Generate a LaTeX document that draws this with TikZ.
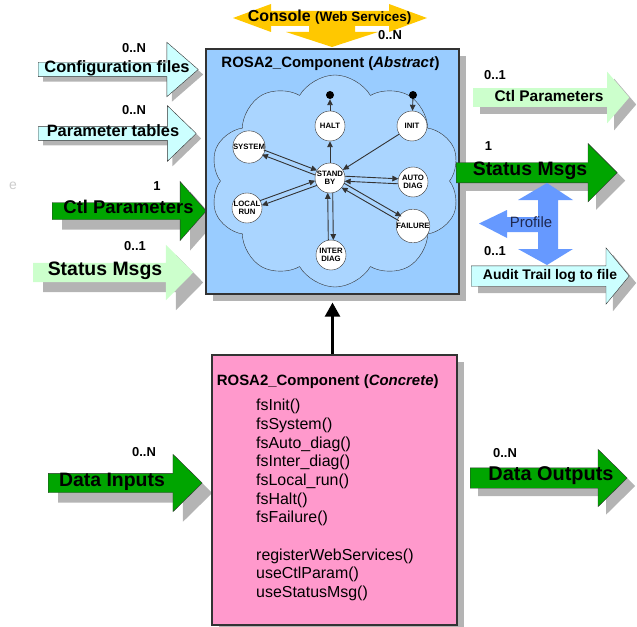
\documentclass[tikz,border=0pt]{standalone}
\usepackage{fontspec}
\setmainfont{Liberation Sans}
\usetikzlibrary{arrows.meta,positioning,calc,shadows,shapes.arrows,shapes.symbols}
\definecolor{absblue}{RGB}{153,204,255}
\definecolor{cloudblue}{RGB}{170,213,255}
\definecolor{concpink}{RGB}{255,153,204}
\definecolor{okgreen}{RGB}{0,165,0}
\definecolor{palegreen}{RGB}{204,255,204}
\definecolor{palecyan}{RGB}{204,255,255}
\definecolor{consolegold}{RGB}{255,200,0}
\definecolor{profileblue}{RGB}{102,153,255}
\definecolor{profiletext}{RGB}{30,40,80}
\definecolor{shadowgray}{RGB}{180,180,180}
\definecolor{edge}{RGB}{51,51,51}

\begin{document}
\begin{tikzpicture}[x=1bp,y=-1bp,
  every node/.append style={inner sep=0pt},
  lbl/.style={font=\fontsize{#1}{#1}\selectfont\bfseries,anchor=mid},
  txt/.style={font=\fontsize{#1}{#1}\selectfont,anchor=mid},
  mult/.style={lbl=13},
  shad/.style={drop shadow={shadow xshift=#1,shadow yshift=-#1,fill=shadowgray,opacity=1}},
  barrow/.style={single arrow,anchor=tail,inner xsep=0pt,minimum width=0pt},
  st/.style={circle,draw=edge,fill=white,minimum size=30bp,align=center,font=\fontsize{7.8}{8.3}\selectfont\bfseries},
  dot/.style={circle,fill=black,minimum size=8bp},
  tr/.style={draw=edge,line width=.9bp,-{Triangle[length=6bp,width=5.5bp]}},
  pr/.style={tr,shorten <=14.8bp,shorten >=14.8bp}]
\useasboundingbox (0,0) rectangle (637,627);

% inputs on the left
\node[barrow,shad=5bp,draw=edge,fill=palecyan,minimum height=160bp,inner ysep=7bp,single arrow head extend=20bp,single arrow tip angle=82] (cfg) at (38,69.5) {};
\node[barrow,shad=5bp,draw=edge,fill=palecyan,minimum height=158bp,inner ysep=6.7bp,single arrow head extend=21bp,single arrow tip angle=88] (ptab) at (38,133.5) {};
\node[barrow,shad=10bp,draw=edge,fill=okgreen,minimum height=154bp,inner ysep=8.3bp,single arrow head extend=21bp,single arrow tip angle=97] (ctl) at (52,211) {};
\node[barrow,shad=10bp,fill=palegreen,minimum height=160bp,inner ysep=9.5bp,single arrow head extend=18bp,single arrow tip angle=91] (status) at (33,272.5) {};
\node[barrow,shad=10bp,draw=edge,fill=okgreen,minimum height=154bp,inner ysep=9.5bp,single arrow head extend=19bp,single arrow tip angle=89] (din) at (48,483) {};

% abstract component
\node[draw=edge,line width=1.2bp,fill=absblue,minimum width=253bp,minimum height=245bp,shad=7bp] (abs) at (332.5,171.5) {};
\node[lbl=15] (abstitle) at (330.5,64.5) {ROSA2\_Component (\textit{Abstract})};
\node[cloud,cloud puffs=10,cloud puff arc=120,cloud ignores aspect,draw=edge,fill=cloudblue,minimum width=250bp,minimum height=212bp] (cloud) at (335,181) {};

\node[st] (halt) at (330,126) {HALT};
\node[st] (init) at (412,126) {INIT};
\node[st] (sys) at (249,147) {SYSTEM};
\node[st] (sb) at (330,178) {STAND\\BY};
\node[st] (auto) at (413,182) {AUTO\\DIAG};
\node[st] (local) at (247,208) {LOCAL\\RUN};
\node[st] (fail) at (413,226) {FAILURE};
\node[st] (inter) at (331,255) {INTER\\DIAG};
\node[dot] (haltend) at (330,95) {};
\node[dot] (initstart) at (413,95) {};
\draw[tr] (halt) -- (haltend);
\draw[tr] (initstart) -- (init);
\draw[tr] (sb) -- (halt);
\draw[tr] (init) -- (sb);
\foreach \s in {sys,auto,local,fail,inter}{
  \draw[pr] ($(sb)!2.5bp!90:(\s)$) -- ($(\s)!2.5bp!-90:(sb)$);
  \draw[pr] ($(\s)!2.5bp!90:(sb)$) -- ($(sb)!2.5bp!-90:(\s)$);
}

% console
\fill[consolegold] (233,18) -- (271,4) -- (271,11) -- (389,11) -- (389,4) -- (427,18) -- (389,32) -- (389,26) -- (355,26) -- (355,32) -- (378,32) -- (332,47) -- (286,32) -- (309,32) -- (309,26) -- (271,26) -- (271,32) -- cycle;
\node[lbl=16] (console) at (329.5,18.5) {Console {\fontsize{13.5}{14}\selectfont(Web Services)}};
\node[mult] (consolemult) at (390,37) {0..N};

% outputs on the right
\node[barrow,shad=7bp,fill=palegreen,minimum height=156bp,inner ysep=9.2bp,single arrow head extend=16.5bp,single arrow tip angle=99] (ctlr) at (473,97.5) {};
\node[barrow,shad=8bp,draw=edge,fill=okgreen,minimum height=161bp,inner ysep=10bp,single arrow head extend=19bp,single arrow tip angle=90] (statusr) at (456,172.7) {};
\node[barrow,shad=7bp,draw=edge,fill=palecyan,minimum height=158bp,inner ysep=10bp,single arrow head extend=18bp,single arrow tip angle=101] (audit) at (471,276) {};
\node[barrow,shad=8bp,draw=edge,fill=okgreen,minimum height=157bp,inner ysep=10bp,single arrow head extend=18.5bp,single arrow tip angle=89] (dout) at (470,478) {};
\fill[profileblue] (547,183) -- (573,200) -- (558,200) -- (558,249) -- (573,249) -- (547,265) -- (518,249) -- (538,249) -- (538,232) -- (507,232) -- (507,238) -- (479,223.5) -- (507,210) -- (507,217) -- (538,217) -- (538,200) -- (518,200) -- cycle;

% concrete component
\node[draw=edge,line width=1.2bp,fill=concpink,minimum width=245bp,minimum height=270bp,shad=7bp] (conc) at (334.5,490) {};
\draw[line width=2.3bp,-{Triangle[length=14bp,width=15bp]},shorten >=8bp] (conc.north -| abs.south) -- (abs.south);
\node[lbl=15] (conctitle) at (327.7,382.5) {ROSA2\_Component (\textit{Concrete})};
\foreach \f [count=\i from 0] in {fsInit(),fsSystem(),fsAuto\_diag(),fsInter\_diag(),fsLocal\_run(),fsHalt(),fsFailure()}
  \node[txt=16,anchor=mid west] (fn\i) at (256,{408.3+18.65*\i}) {\f};
\foreach \f [count=\i from 8] in {registerWebServices(),useCtlParam(),useStatusMsg()}
  \node[txt=16,anchor=mid west] (fn\i) at (256,{408.3+18.65*\i}) {\f};

% labels
\node[txt=14,text=gray!40] (stray) at (13,187) {e};
\node[mult] (cfgmult) at (134,50) {0..N};
\node[lbl=16.5] (cfgtext) at (117,69.5) {Configuration files};
\node[mult] (ptabmult) at (134,112) {0..N};
\node[lbl=16.5] (ptabtext) at (113,133.5) {Parameter tables};
\node[mult] (ctlmult) at (157,187.5) {1};
\node[lbl=18.5] (ctltext) at (128.5,211) {Ctl Parameters};
\node[mult] (statusmult) at (135,247.5) {0..1};
\node[lbl=19.5] (statustext) at (105,272.5) {Status Msgs};
\node[mult] (ctlrmult) at (495,76.7) {0..1};
\node[lbl=15.5] (ctlrtext) at (549,98.5) {Ctl Parameters};
\node[mult] (statusrmult) at (488.5,148) {1};
\node[lbl=19.5] (statusrtext) at (530,173) {Status Msgs};
\node[txt=15,text=profiletext] (profile) at (531,224.5) {Profile};
\node[mult] (auditmult) at (495,252.5) {0..1};
\node[lbl=14] (audittext) at (550,276.5) {Audit Trail log to file};
\node[mult] (dinmult) at (144,454) {0..N};
\node[lbl=19.5] (dintext) at (112,483.5) {Data Inputs};
\node[mult] (doutmult) at (505,455) {0..N};
\node[lbl=20] (douttext) at (551,478) {Data Outputs};
\end{tikzpicture}
\end{document}
